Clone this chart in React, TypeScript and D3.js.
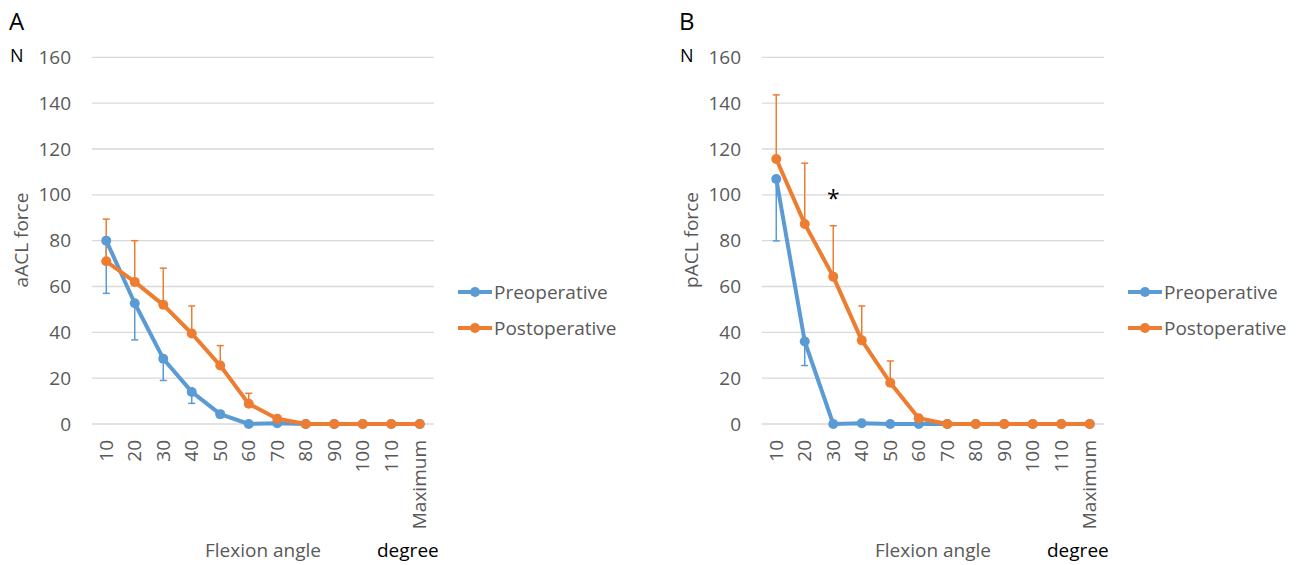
import React, { useEffect, useRef } from "react";
import * as d3 from "d3";

const angles = ["10", "20", "30", "40", "50", "60", "70", "80", "90", "100", "110", "Maximum"];
const yTicks = [0, 20, 40, 60, 80, 100, 120, 140, 160];

// panel A: aACL
const aPre = [80, 52.7, 28.5, 14, 4.3, 0, 0.3, 0, 0, 0, 0, 0];
const aPreErr = [23, 16, 9.5, 5, 1.5, 0, 0, 0, 0, 0, 0, 0];
const aPost = [71, 62, 52, 39.5, 25.5, 8.8, 2.3, 0, 0, 0, 0, 0];
const aPostErr = [18.4, 18, 16, 12, 8.7, 4.6, 0, 0, 0, 0, 0, 0];

// panel B: pACL
const bPre = [106.9, 36, 0, 0.3, 0, 0, 0, 0, 0, 0, 0, 0];
const bPreErr = [27, 10.5, 0, 0, 0, 0, 0, 0, 0, 0, 0, 0];
const bPost = [115.6, 87.3, 64.3, 36.5, 18, 2.5, 0, 0, 0, 0, 0, 0];
const bPostErr = [28, 26.5, 22.2, 15, 9.5, 0, 0, 0, 0, 0, 0, 0];

const BLUE = "#5B9BD5";
const ORANGE = "#ED7D31";
const FONT = "'Open Sans', sans-serif";

type Panel = {
  letter: string;
  title: string;
  left: number;
  pre: number[];
  preErr: number[];
  post: number[];
  postErr: number[];
  star?: number;
};

const panels: Panel[] = [
  { letter: "A", title: "aACL force", left: 0, pre: aPre, preErr: aPreErr, post: aPost, postErr: aPostErr },
  { letter: "B", title: "pACL force", left: 670, pre: bPre, preErr: bPreErr, post: bPost, postErr: bPostErr, star: 2 },
];

export default function App() {
  const ref = useRef<SVGSVGElement>(null);

  useEffect(() => {
    const svg = d3.select(ref.current);
    svg.selectAll("*").remove();

    const y = d3.scaleLinear().domain([0, 160]).range([424, 57.3]);

    panels.forEach((p) => {
      const g = svg.append("g").attr("transform", `translate(${p.left},0)`);
      const x = d3.scaleBand().domain(angles).range([92, 434]);
      const cx = (d: string) => (x(d) as number) + x.bandwidth() / 2;

      g.append("text").attr("x", 9).attr("y", 30).style("font-size", "24px").attr("fill", "#000").text(p.letter);
      g.append("text").attr("x", 10).attr("y", 62).style("font-size", "18px").attr("fill", "#000").text("N");

      // grid
      g.append("g")
        .selectAll("line")
        .data(yTicks)
        .join("line")
        .attr("x1", 92)
        .attr("x2", 434)
        .attr("y1", (d) => y(d))
        .attr("y2", (d) => y(d))
        .style("stroke", "#d9d9d9")
        .style("stroke-width", 1.3);

      g.append("g")
        .selectAll("text")
        .data(yTicks)
        .join("text")
        .attr("x", 71)
        .attr("y", (d) => y(d))
        .attr("dy", "0.35em")
        .attr("text-anchor", "end")
        .style("font-size", "19px")
        .attr("fill", "#595959")
        .text((d) => d);

      g.append("g")
        .selectAll("text")
        .data(angles)
        .join("text")
        .attr("transform", (d) => `translate(${cx(d)},440) rotate(-90)`)
        .attr("text-anchor", "end")
        .attr("dy", "0.35em")
        .style("font-size", "19px")
        .attr("fill", "#595959")
        .text((d) => d);

      g.append("text")
        .attr("transform", `translate(21,240) rotate(-90)`)
        .attr("text-anchor", "middle")
        .attr("dy", "0.35em")
        .style("font-size", "19px")
        .attr("fill", "#595959")
        .text(p.title);

      g.append("text").attr("x", 263).attr("y", 557).attr("text-anchor", "middle")
        .style("font-size", "19px").attr("fill", "#595959").text("Flexion angle");
      g.append("text").attr("x", 377).attr("y", 557)
        .style("font-size", "19px").attr("fill", "#000").text("degree");

      // error bars
      const errBars = (vals: number[], errs: number[], color: string, dir: number) => {
        const eg = g.append("g").style("stroke", color).style("stroke-width", 1.5);
        angles.forEach((a, i) => {
          if (!errs[i]) return;
          const yEnd = y(vals[i] + dir * errs[i]);
          eg.append("line").attr("x1", cx(a)).attr("x2", cx(a)).attr("y1", y(vals[i])).attr("y2", yEnd);
          eg.append("line").attr("x1", cx(a) - 3.5).attr("x2", cx(a) + 3.5).attr("y1", yEnd).attr("y2", yEnd);
        });
      };
      errBars(p.pre, p.preErr, BLUE, -1);
      errBars(p.post, p.postErr, ORANGE, 1);

      const series = (vals: number[], color: string) => {
        const line = d3.line<number>().x((_, i) => cx(angles[i])).y((d) => y(d));
        g.append("path").attr("d", line(vals)).style("fill", "none").style("stroke", color)
          .style("stroke-width", 4).style("stroke-linejoin", "round");
        g.append("g").selectAll("circle").data(vals).join("circle")
          .attr("cx", (_, i) => cx(angles[i])).attr("cy", (d) => y(d)).attr("r", 5).style("fill", color);
      };
      series(p.pre, BLUE);
      series(p.post, ORANGE);

      if (p.star !== undefined) {
        g.append("text").attr("x", cx(angles[p.star])).attr("y", 207).attr("text-anchor", "middle")
          .style("font-size", "23px").attr("fill", "#000").text("*");
      }

      // legend
      const legend = [
        { name: "Preoperative", color: BLUE, y: 292 },
        { name: "Postoperative", color: ORANGE, y: 328 },
      ];
      const lg = g.append("g").attr("transform", "translate(458,0)");
      legend.forEach((l) => {
        lg.append("line").attr("x1", 0).attr("x2", 34).attr("y1", l.y).attr("y2", l.y)
          .style("stroke", l.color).style("stroke-width", 4);
        lg.append("circle").attr("cx", 17).attr("cy", l.y).attr("r", 5).style("fill", l.color);
        lg.append("text").attr("x", 36).attr("y", l.y).attr("dy", "0.35em").style("font-size", "19px")
          .attr("fill", "#595959").text(l.name);
      });
    });
  }, []);

  return (
    <svg
      ref={ref}
      width={1306}
      height={565}
      style={{ position: "absolute", left: 0, top: 0, background: "#fff", fontFamily: FONT }}
    />
  );
}
